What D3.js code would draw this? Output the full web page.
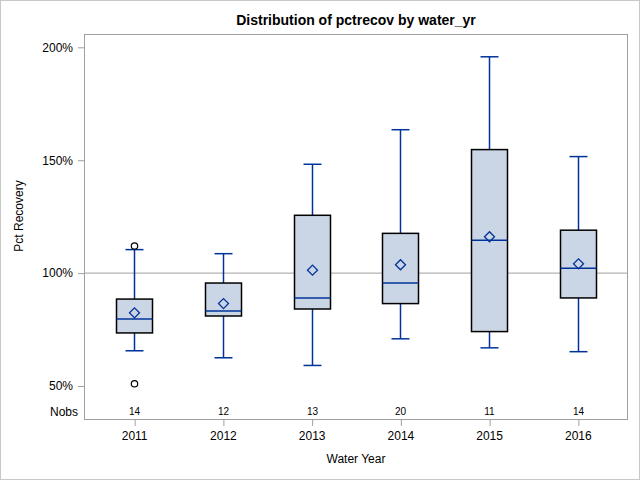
<!DOCTYPE html>
<html>
<head>
<meta charset="utf-8">
<script src="https://cdn.jsdelivr.net/npm/d3@7"></script>
<style>
  body { margin: 0; background: #fff; }
  text { font-family: "Liberation Sans", Arial, sans-serif; }
</style>
</head>
<body>
<svg id="chart" width="640" height="480"></svg>
<script>
// box statistics per water year (pct recovery)
const years = ["2011", "2012", "2013", "2014", "2015", "2016"];
const q1 = [73.5, 81.0, 84.1, 86.5, 74.1, 89.0];
const medians = [79.7, 83.2, 89.0, 95.6, 114.6, 102.2];
const q3 = [88.5, 95.6, 125.6, 117.6, 154.7, 119.0];
const means = [82.4, 86.5, 101.3, 103.7, 116.1, 104.1];
const lowWhisk = [65.6, 62.5, 59.1, 70.9, 66.9, 65.2];
const highWhisk = [110.4, 108.6, 148.2, 163.5, 195.8, 151.6];
const nobs = [14, 12, 13, 20, 11, 14];
const outliers = [[112.0, 51.0], [], [], [], [], []];
const yTicks = [50, 100, 150, 200];

const svg = d3.select("#chart");
const plotL = 84, plotR = 628, plotT = 34, plotB = 420;
const lineBlue = "#00339A";

// outer border
svg.append("rect").attr("x", 0.5).attr("y", 0.5).attr("width", 639).attr("height", 479)
  .attr("fill", "#fff").attr("stroke", "#C8C8C8");

const x = d3.scalePoint().domain(years).range([plotL, plotR]).padding(0.565);
const y = d3.scaleLinear().domain([50, 200]).range([386, 47.3]);

// title
svg.append("text").attr("x", 356).attr("y", 25).attr("text-anchor", "middle")
  .attr("font-size", 14).attr("font-weight", "bold").attr("fill", "#000")
  .text("Distribution of pctrecov by water_yr");

// reference line at 100%
svg.append("line").attr("x1", plotL).attr("x2", plotR).attr("y1", y(100)).attr("y2", y(100))
  .attr("stroke", "#A0A0A0").attr("stroke-width", 1);

// boxes
const boxW = 36, capW = 18;
years.forEach(function(yr, i) {
  const cx = Math.round(x(yr)) + 0.5;
  const g = svg.append("g");
  g.append("line").attr("x1", cx).attr("x2", cx).attr("y1", y(highWhisk[i])).attr("y2", y(q3[i]))
    .attr("stroke", lineBlue).attr("stroke-width", 1.5);
  g.append("line").attr("x1", cx).attr("x2", cx).attr("y1", y(q1[i])).attr("y2", y(lowWhisk[i]))
    .attr("stroke", lineBlue).attr("stroke-width", 1.5);
  [highWhisk[i], lowWhisk[i]].forEach(function(v) {
    g.append("line").attr("x1", cx - capW / 2).attr("x2", cx + capW / 2).attr("y1", y(v)).attr("y2", y(v))
      .attr("stroke", lineBlue).attr("stroke-width", 1.5);
  });
  g.append("rect").attr("x", cx - boxW / 2).attr("y", y(q3[i])).attr("width", boxW)
    .attr("height", y(q1[i]) - y(q3[i])).attr("fill", "#CAD5E5").attr("stroke", "#000").attr("stroke-width", 1.5);
  g.append("line").attr("x1", cx - boxW / 2).attr("x2", cx + boxW / 2).attr("y1", y(medians[i])).attr("y2", y(medians[i]))
    .attr("stroke", lineBlue).attr("stroke-width", 1.5);
  g.append("path").attr("d", d3.symbol().type(d3.symbolSquare).size(50)())
    .attr("transform", `translate(${cx},${y(means[i])}) rotate(45)`)
    .attr("fill", "none").attr("stroke", lineBlue).attr("stroke-width", 1.3);
  outliers[i].forEach(function(v) {
    g.append("circle").attr("cx", cx).attr("cy", y(v)).attr("r", 3.2)
      .attr("fill", "none").attr("stroke", "#000").attr("stroke-width", 1.2);
  });
  // nobs
  svg.append("text").attr("x", cx).attr("y", 415).attr("text-anchor", "middle")
    .attr("font-size", 10).attr("fill", "#000").text(nobs[i]);
});

svg.append("text").attr("x", 78).attr("y", 415.5).attr("text-anchor", "end")
  .attr("font-size", 12).attr("fill", "#000").text("Nobs");

// frame
svg.append("rect").attr("x", plotL + 0.5).attr("y", plotT + 0.5).attr("width", plotR - plotL - 1)
  .attr("height", plotB - plotT - 1).attr("fill", "none").attr("stroke", "#A0A0A0");

// y axis
const yAxis = svg.append("g").attr("transform", `translate(${plotL},0)`)
  .call(d3.axisLeft(y).tickValues(yTicks).tickSize(6).tickPadding(5).tickFormat(d => d + "%"));
yAxis.select(".domain").remove();
yAxis.selectAll("line").attr("stroke", "#A0A0A0");
yAxis.selectAll("text").attr("font-size", 12).attr("fill", "#000").attr("font-family", "Liberation Sans, Arial, sans-serif");

// x axis
const xAxis = svg.append("g").attr("transform", `translate(0,${plotB})`)
  .call(d3.axisBottom(x).tickSize(6).tickPadding(5));
xAxis.select(".domain").remove();
xAxis.selectAll("line").attr("stroke", "#A0A0A0").attr("transform", "translate(0.5,0)");
xAxis.selectAll("text").attr("font-size", 12).attr("fill", "#000").attr("font-family", "Liberation Sans, Arial, sans-serif");

// axis titles
svg.append("text").attr("x", 356).attr("y", 463).attr("text-anchor", "middle")
  .attr("font-size", 12).attr("fill", "#000").text("Water Year");
svg.append("text").attr("transform", "translate(23,216) rotate(-90)").attr("text-anchor", "middle")
  .attr("font-size", 12).attr("fill", "#000").text("Pct Recovery");
</script>
</body>
</html>
